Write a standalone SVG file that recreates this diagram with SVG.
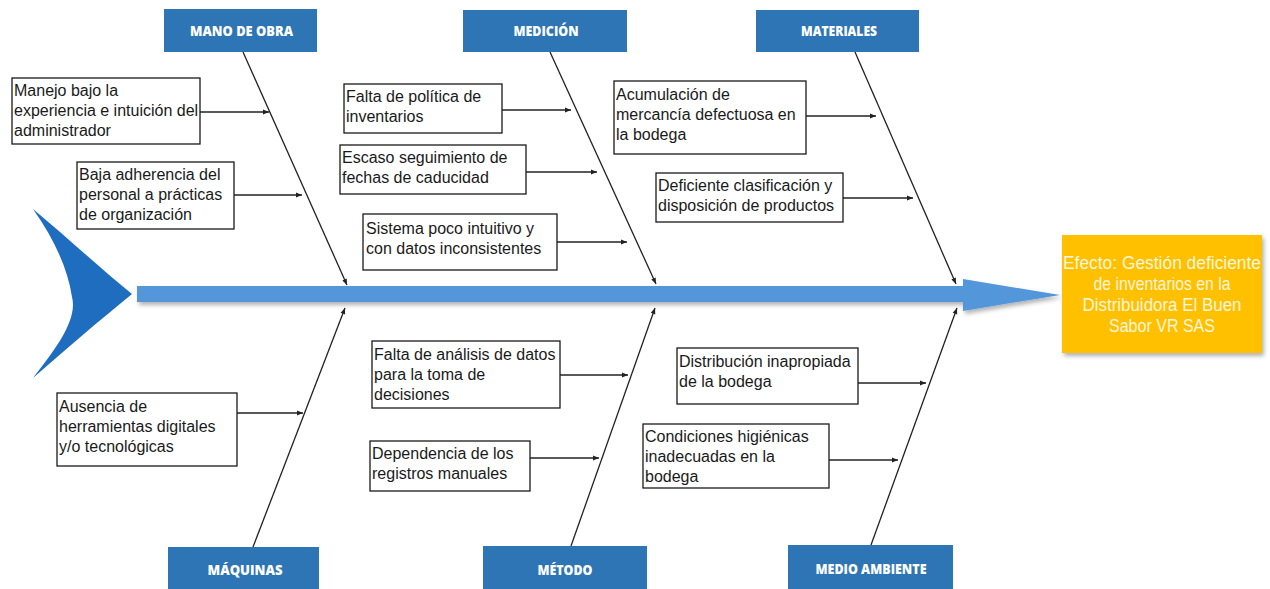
<svg xmlns="http://www.w3.org/2000/svg" width="1270" height="589" viewBox="0 0 1270 589">
<defs>
<style>
.cat rect{fill:#2e75b6}
.cat text{fill:#ffffff;font-family:"Open Sans","DejaVu Sans",sans-serif;font-weight:800;font-size:13.5px;text-anchor:middle}
.cause rect{fill:#ffffff;stroke:#1a1a1a;stroke-width:1.3}
.cause text{fill:#1a1a1a;font-family:"Liberation Sans",Arial,sans-serif;font-size:16px}
.bone{stroke:#222;stroke-width:1.3;fill:none}
.arr{stroke:#222;stroke-width:1.3;fill:none}
.eff text{fill:#fff6dc;font-family:"Liberation Sans",Arial,sans-serif;font-size:18px;text-anchor:middle}
</style>
<marker id="ah" viewBox="0 0 10 10" refX="10" refY="5" markerWidth="8" markerHeight="6" markerUnits="userSpaceOnUse" orient="auto">
<path d="M0,1 L10,5 L0,9 z" fill="#222"/>
</marker>
<filter id="sh" x="-10%" y="-30%" width="120%" height="170%">
<feDropShadow dx="2" dy="3" stdDeviation="2" flood-color="#000" flood-opacity="0.3"/>
</filter>
</defs>
<rect width="1270" height="589" fill="#ffffff"/>

<g id="tail">
<path d="M33,209 C70,240 100,268 132,294 C100,320 65,350 33,378 C55,350 78,320 72,297 C68,270 55,240 33,209 Z" fill="#1f6dbf"/>
</g>

<g id="spine" filter="url(#sh)">
<path d="M137,286 L963,286 L963,279 L1060,295 L963,311 L963,302 L137,302 Z" fill="#5296d9"/>
</g>

<g id="effect" class="eff">
<rect x="1062" y="235" width="200" height="118" fill="#ffc000" filter="url(#sh)"/>
<text x="1162" y="269" textLength="198" lengthAdjust="spacingAndGlyphs">Efecto: Gestión deficiente</text>
<text x="1162" y="290" textLength="137" lengthAdjust="spacingAndGlyphs">de inventarios en la</text>
<text x="1162" y="311" textLength="159" lengthAdjust="spacingAndGlyphs">Distribuidora El Buen</text>
<text x="1162" y="332" textLength="106" lengthAdjust="spacingAndGlyphs">Sabor VR SAS</text>
</g>

<g id="cat-mano" class="cat">
<rect x="164" y="9" width="153" height="43"/>
<text x="241.5" y="36" textLength="103" lengthAdjust="spacingAndGlyphs">MANO DE OBRA</text>
</g>
<g id="cat-medicion" class="cat">
<rect x="463" y="10" width="164" height="42"/>
<text x="546" y="36" textLength="65" lengthAdjust="spacingAndGlyphs">MEDICIÓN</text>
</g>
<g id="cat-materiales" class="cat">
<rect x="756" y="10" width="163" height="42"/>
<text x="839" y="36" textLength="76" lengthAdjust="spacingAndGlyphs">MATERIALES</text>
</g>
<g id="cat-maquinas" class="cat">
<rect x="168" y="547" width="151" height="42"/>
<text x="245" y="575" textLength="75" lengthAdjust="spacingAndGlyphs">MÁQUINAS</text>
</g>
<g id="cat-metodo" class="cat">
<rect x="483" y="546" width="164" height="43"/>
<text x="565" y="575" textLength="55" lengthAdjust="spacingAndGlyphs">MÉTODO</text>
</g>
<g id="cat-medio" class="cat">
<rect x="788" y="545" width="165" height="44"/>
<text x="871" y="574" textLength="111" lengthAdjust="spacingAndGlyphs">MEDIO AMBIENTE</text>
</g>

<g id="cause-manejo" class="cause">
<rect x="12" y="78" width="188" height="66"/>
<text x="14" y="96">Manejo bajo la</text>
<text x="14" y="116">experiencia e intuición del</text>
<text x="14" y="136">administrador</text>
</g>
<g id="cause-baja" class="cause">
<rect x="77" y="162" width="157" height="67"/>
<text x="79" y="180">Baja adherencia del</text>
<text x="79" y="200">personal a prácticas</text>
<text x="79" y="220">de organización</text>
</g>
<g id="cause-falta-politica" class="cause">
<rect x="344" y="84" width="158" height="49"/>
<text x="346" y="102">Falta de política de</text>
<text x="346" y="122">inventarios</text>
</g>
<g id="cause-escaso" class="cause">
<rect x="340" y="145" width="186" height="49"/>
<text x="342" y="163">Escaso seguimiento de</text>
<text x="342" y="183">fechas de caducidad</text>
</g>
<g id="cause-sistema" class="cause">
<rect x="363" y="214" width="194" height="56"/>
<text x="366" y="234">Sistema poco intuitivo y</text>
<text x="366" y="254">con datos inconsistentes</text>
</g>
<g id="cause-acumulacion" class="cause">
<rect x="614" y="81" width="192" height="73"/>
<text x="616" y="100">Acumulación de</text>
<text x="616" y="120">mercancía defectuosa en</text>
<text x="616" y="140">la bodega</text>
</g>
<g id="cause-deficiente" class="cause">
<rect x="656" y="173" width="187" height="49"/>
<text x="658" y="191">Deficiente clasificación y</text>
<text x="658" y="211">disposición de productos</text>
</g>
<g id="cause-ausencia" class="cause">
<rect x="57" y="393" width="180" height="73"/>
<text x="59" y="412">Ausencia de</text>
<text x="59" y="432">herramientas digitales</text>
<text x="59" y="452">y/o tecnológicas</text>
</g>
<g id="cause-falta-analisis" class="cause">
<rect x="372" y="341" width="188" height="67"/>
<text x="374" y="360">Falta de análisis de datos</text>
<text x="374" y="380">para la toma de</text>
<text x="374" y="400">decisiones</text>
</g>
<g id="cause-dependencia" class="cause">
<rect x="370" y="441" width="160" height="50"/>
<text x="372" y="459">Dependencia de los</text>
<text x="372" y="479">registros manuales</text>
</g>
<g id="cause-distribucion" class="cause">
<rect x="677" y="348" width="181" height="56"/>
<text x="679" y="367">Distribución inapropiada</text>
<text x="679" y="387">de la bodega</text>
</g>
<g id="cause-condiciones" class="cause">
<rect x="643" y="424" width="186" height="64"/>
<text x="645" y="442">Condiciones higiénicas</text>
<text x="645" y="462">inadecuadas en la</text>
<text x="645" y="482">bodega</text>
</g>

<g id="connectors">
<line class="bone" x1="243" y1="52" x2="347" y2="285" marker-end="url(#ah)"/>
<line class="bone" x1="550" y1="52" x2="656" y2="284" marker-end="url(#ah)"/>
<line class="bone" x1="855" y1="52" x2="956" y2="284" marker-end="url(#ah)"/>
<line class="bone" x1="253" y1="547" x2="345" y2="308" marker-end="url(#ah)"/>
<line class="bone" x1="571" y1="546" x2="655" y2="308" marker-end="url(#ah)"/>
<line class="bone" x1="871" y1="545" x2="957" y2="308" marker-end="url(#ah)"/>

<line class="arr" x1="200" y1="112" x2="269" y2="112" marker-end="url(#ah)"/>
<line class="arr" x1="234" y1="195" x2="302" y2="195" marker-end="url(#ah)"/>
<line class="arr" x1="502" y1="110" x2="571" y2="110" marker-end="url(#ah)"/>
<line class="arr" x1="526" y1="172" x2="597" y2="172" marker-end="url(#ah)"/>
<line class="arr" x1="557" y1="242" x2="627" y2="242" marker-end="url(#ah)"/>
<line class="arr" x1="806" y1="116" x2="876" y2="116" marker-end="url(#ah)"/>
<line class="arr" x1="843" y1="198" x2="913" y2="198" marker-end="url(#ah)"/>
<line class="arr" x1="237" y1="413" x2="303" y2="413" marker-end="url(#ah)"/>
<line class="arr" x1="560" y1="375" x2="628" y2="375" marker-end="url(#ah)"/>
<line class="arr" x1="530" y1="458" x2="599" y2="458" marker-end="url(#ah)"/>
<line class="arr" x1="858" y1="383" x2="926" y2="383" marker-end="url(#ah)"/>
<line class="arr" x1="829" y1="460" x2="898" y2="460" marker-end="url(#ah)"/>
</g>
</svg>
